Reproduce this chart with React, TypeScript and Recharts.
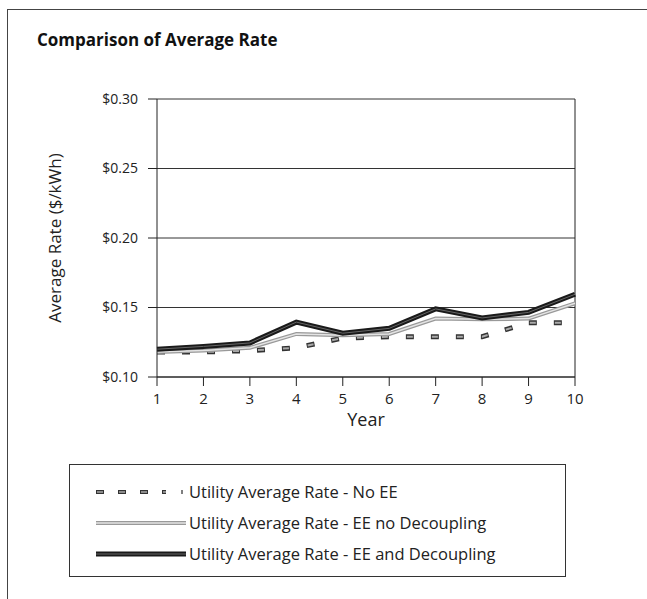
import { LineChart, Line, XAxis, YAxis, CartesianGrid, Legend, ReferenceLine } from 'recharts';

const years = [1, 2, 3, 4, 5, 6, 7, 8, 9, 10];
const noEE = [0.118, 0.118, 0.119, 0.121, 0.128, 0.129, 0.129, 0.129, 0.139, 0.139];
const eeNoDecoupling = [0.118, 0.119, 0.121, 0.131, 0.13, 0.131, 0.142, 0.1415, 0.142, 0.153];
const eeDecoupling = [0.12, 0.122, 0.1245, 0.1395, 0.1315, 0.135, 0.149, 0.1425, 0.1465, 0.1595];
const yTicks = [0.1, 0.15, 0.2, 0.25, 0.3];

const seriesNames = [
  'Utility Average Rate - No EE',
  'Utility Average Rate - EE no Decoupling',
  'Utility Average Rate - EE and Decoupling',
];

const data = years.map((y, i) => ({
  year: y,
  noEE: noEE[i],
  eeNoDec: eeNoDecoupling[i],
  eeDec: eeDecoupling[i],
}));

const font = '"Open Sans", "Noto Sans", sans-serif';

function LegendBox() {
  const sample = (i: number) => {
    if (i === 0) {
      return (
        <svg width={90} height={10}>
          <line x1={0} y1={5} x2={70} y2={5} stroke="#333" strokeWidth={4} strokeDasharray="8 14" />
          <line x1={1} y1={5} x2={70} y2={5} stroke="#aaa" strokeWidth={1.5} strokeDasharray="6 16" />
          <line x1={86} y1={3} x2={86} y2={7} stroke="#555" strokeWidth={1.5} />
        </svg>
      );
    }
    if (i === 1) {
      return (
        <svg width={90} height={10}>
          <line x1={0} y1={5} x2={90} y2={5} stroke="#999" strokeWidth={4} />
          <line x1={0} y1={5} x2={90} y2={5} stroke="#e4e4e4" strokeWidth={1.5} />
        </svg>
      );
    }
    return (
      <svg width={90} height={10}>
        <line x1={0} y1={5} x2={90} y2={5} stroke="#1a1a1a" strokeWidth={5} />
        <line x1={0} y1={5} x2={90} y2={5} stroke="#666" strokeWidth={1} />
      </svg>
    );
  };
  return (
    <div
      style={{
        width: 497,
        height: 113,
        boxSizing: 'border-box',
        border: '1px solid #333',
        paddingTop: 11,
        paddingLeft: 26,
        fontFamily: font,
        fontSize: 16.5,
        color: '#222',
      }}
    >
      {seriesNames.map((n, i) => (
        <div key={n} style={{ display: 'flex', alignItems: 'center', height: 31 }}>
          {sample(i)}
          <span style={{ marginLeft: 3 }}>{n}</span>
        </div>
      ))}
    </div>
  );
}

export default function App() {
  return (
    <div style={{ position: 'absolute', left: 0, top: 0, width: 647, height: 599, background: '#fff' }}>
      <div
        style={{
          position: 'absolute',
          left: 7,
          top: 9,
          width: 640,
          height: 590,
          borderLeft: '1px solid #444',
          borderTop: '1px solid #444',
        }}
      />
      <div
        style={{
          position: 'absolute',
          left: 37,
          top: 28,
          fontFamily: font,
          fontWeight: 700,
          fontSize: 17,
          color: '#111',
        }}
      >
        Comparison of Average Rate
      </div>
      <LineChart
        width={647}
        height={599}
        data={data}
        margin={{ top: 99, right: 72, left: 0, bottom: 0 }}
        style={{ position: 'absolute', left: 0, top: 0 }}
      >
        <CartesianGrid vertical={false} stroke="#333" strokeWidth={1} />
        <XAxis
          dataKey="year"
          height={222}
          tickSize={9}
          tickMargin={7}
          stroke="#222"
          tick={{ fill: '#222', fontSize: 15, fontFamily: font }}
          label={{ value: 'Year', position: 'insideTop', offset: 36, fill: '#222', fontSize: 18, fontFamily: font }}
        />
        <YAxis
          width={157}
          domain={[0.1, 0.3]}
          ticks={yTicks}
          tickSize={9}
          tickMargin={10}
          stroke="#222"
          tickFormatter={(v: number) => `$${v.toFixed(2)}`}
          tick={{ fill: '#222', fontSize: 14, fontFamily: font }}
          label={{
            value: 'Average Rate ($/kWh)',
            angle: -90,
            position: 'center',
            dx: -24,
            fill: '#222',
            fontSize: 17,
            fontFamily: font,
          }}
        />
        <ReferenceLine x={10} stroke="#222" />
        <Line dataKey="noEE" stroke="#333" strokeWidth={5} strokeDasharray="8 17" dot={false} isAnimationActive={false} />
        <Line
          dataKey="noEE"
          stroke="#aaa"
          strokeWidth={2}
          strokeDasharray="6 19"
          strokeDashoffset={-1}
          dot={false}
          isAnimationActive={false}
        />
        <Line dataKey="eeNoDec" stroke="#999" strokeWidth={4} dot={false} isAnimationActive={false} />
        <Line dataKey="eeNoDec" stroke="#e4e4e4" strokeWidth={1.5} dot={false} isAnimationActive={false} />
        <Line dataKey="eeDec" stroke="#1a1a1a" strokeWidth={5} dot={false} isAnimationActive={false} />
        <Line dataKey="eeDec" stroke="#666" strokeWidth={1} dot={false} isAnimationActive={false} />
        <Legend
          layout="vertical"
          align="center"
          verticalAlign="middle"
          content={() => <LegendBox />}
          wrapperStyle={{ position: 'absolute', left: 69, top: 464, width: 497, height: 113 }}
        />
      </LineChart>
    </div>
  );
}
